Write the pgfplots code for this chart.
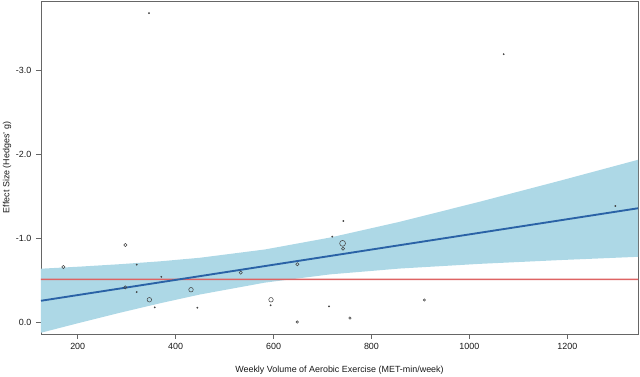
\documentclass[border=0pt]{standalone}
\usepackage{fontspec}
\setmainfont{Liberation Sans}
\usepackage{pgfplots}
\pgfplotsset{compat=1.18}
\definecolor{bandblue}{RGB}{173,216,230}
\definecolor{fitblue}{RGB}{42,98,166}
\definecolor{hline}{RGB}{222,100,100}
\definecolor{boxgray}{RGB}{102,102,102}
\definecolor{ptgray}{RGB}{68,68,68}
\begin{document}
\begin{tikzpicture}
\begin{axis}[
  at={(0,0)}, anchor=south west,
  scale only axis, width=447.75pt, height=249.75pt,
  xmin=125, xmax=1344.4, ymin=-3.835, ymax=0.143, y dir=reverse,
  axis line style={boxgray, line width=0.6pt},
  xtick={200,400,600,800,1000,1200},
  xticklabels={200,400,600,800,1000,1200},
  ytick={0,-1,-2,-3}, yticklabels={0.0,-1.0,-2.0,-3.0},
  tick align=outside, xtick pos=bottom, ytick pos=left,
  major tick length=3.75pt,
  tick style={boxgray, line width=0.6pt},
  tick label style={font=\fontsize{6.7}{8}\selectfont, text=black!90},
  xlabel={Weekly Volume of Aerobic Exercise (MET-min/week)},
  ylabel={Effect Size (Hedges' g)},
  label style={font=\fontsize{6.7}{8}\selectfont, text=black!90},
  xlabel style={at={(axis description cs:0.5,-0.108)}, anchor=center},
  ylabel style={at={(axis description cs:-0.057,0.5)}, anchor=center},
]
% confidence band (upper edge left to right, lower edge right to left)
\addplot[fill=bandblue, draw=none, no marks] coordinates {
 (125.0,-0.637) (204.7,-0.662) (286.4,-0.691) (368.1,-0.725) (449.8,-0.768)
 (582.6,-0.867) (715.3,-1.009) (858.3,-1.198) (1021.7,-1.438) (1185.1,-1.688) (1344.4,-1.938)
 (1344.4,-0.779) (1185.1,-0.740) (1021.7,-0.695) (858.3,-0.639) (715.3,-0.569)
 (582.6,-0.471) (449.8,-0.329) (368.1,-0.224) (286.4,-0.111) (204.7,0.008) (125.0,0.128)
 (125.0,-0.637)
};
% reference line
\addplot[hline, line width=1.1pt, no marks] coordinates {(125,-0.5095) (1344.4,-0.5105)};
% fitted line
\addplot[fitblue, line width=1.4pt, no marks] coordinates {(125,-0.254) (1344.4,-1.359)};
% tiny points
\addplot[only marks, mark=*, mark size=0.45pt, ptgray] coordinates {
 (345.6,-3.69) (1070,-3.20) (320.5,-0.685) (320.5,-0.358) (357.3,-0.175)
 (370.8,-0.54) (444.3,-0.171) (594,-0.20) (742.5,-1.207) (720,-1.02)
 (1298,-1.386) (713.3,-0.187)
};
% small circles
\addplot[only marks, mark=o, mark size=0.9pt, ptgray, line width=0.4pt] coordinates {
 (908,-0.263) (756,-0.048) (648.5,0.0)
};
\addplot[only marks, mark=o, mark size=1.2pt, ptgray, line width=0.4pt] coordinates {
 (170.6,-0.657) (297.2,-0.92) (297,-0.414) (533,-0.59) (648.5,-0.69) (742,-0.876)
};
% medium circles
\addplot[only marks, mark=o, mark size=1.7pt, ptgray, line width=0.4pt] coordinates {
 (346.3,-0.266) (431.4,-0.386) (594.8,-0.266)
};
% large circle
\addplot[only marks, mark=o, mark size=2.2pt, ptgray, line width=0.4pt] coordinates {
 (741,-0.94)
};
\end{axis}
\pgfresetboundingbox
\path (-30.75pt,-32.25pt) rectangle (449.25pt,250.5pt);
\end{tikzpicture}
\end{document}
